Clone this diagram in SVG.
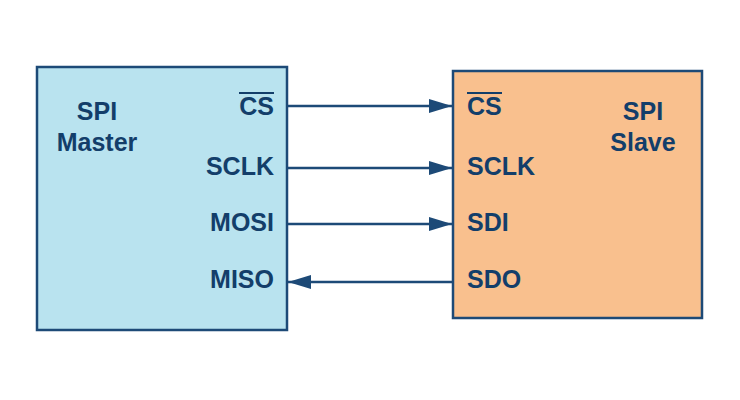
<svg xmlns="http://www.w3.org/2000/svg" width="740" height="400" viewBox="0 0 740 400">
  <defs>
    <style>
      .box { stroke: #1d4a77; stroke-width: 2.5; }
      .t { font-family: "Liberation Sans", Arial, sans-serif; font-weight: bold; font-size: 25px; fill: #133e6a; }
      .wire { stroke: #1d4a77; stroke-width: 2.5; fill: none; }
      .bar { stroke: #133e6a; stroke-width: 2; }
    </style>
    <marker id="arr" markerUnits="userSpaceOnUse" markerWidth="24" markerHeight="14" refX="23" refY="7" orient="auto">
      <path d="M0,0 L23,7 L0,14 Z" fill="#1d4a77"/>
    </marker>
  </defs>
  <rect width="740" height="400" fill="#ffffff"/>
  <g id="master">
    <rect class="box" x="37" y="67" width="250" height="263" fill="#b9e3ef"/>
    <text class="t" x="97" y="120" text-anchor="middle">SPI</text>
    <text class="t" x="97" y="151" text-anchor="middle">Master</text>
    <text class="t" x="274" y="115" text-anchor="end">CS</text>
    <line class="bar" x1="239" y1="93" x2="274" y2="93"/>
    <text class="t" x="274" y="175" text-anchor="end">SCLK</text>
    <text class="t" x="274" y="231" text-anchor="end">MOSI</text>
    <text class="t" x="274" y="288" text-anchor="end">MISO</text>
  </g>
  <g id="slave">
    <rect class="box" x="453" y="71" width="249" height="247" fill="#f9c08e"/>
    <text class="t" x="643" y="120" text-anchor="middle">SPI</text>
    <text class="t" x="643" y="151" text-anchor="middle">Slave</text>
    <text class="t" x="467" y="115">CS</text>
    <line class="bar" x1="467" y1="93" x2="502" y2="93"/>
    <text class="t" x="467" y="175">SCLK</text>
    <text class="t" x="467" y="231">SDI</text>
    <text class="t" x="467" y="288">SDO</text>
  </g>
  <g id="connectors">
    <line class="wire" x1="288" y1="106" x2="452" y2="106" marker-end="url(#arr)"/>
    <line class="wire" x1="288" y1="168" x2="452" y2="168" marker-end="url(#arr)"/>
    <line class="wire" x1="288" y1="224" x2="452" y2="224" marker-end="url(#arr)"/>
    <line class="wire" x1="452" y1="282" x2="288" y2="282" marker-end="url(#arr)"/>
  </g>
</svg>
